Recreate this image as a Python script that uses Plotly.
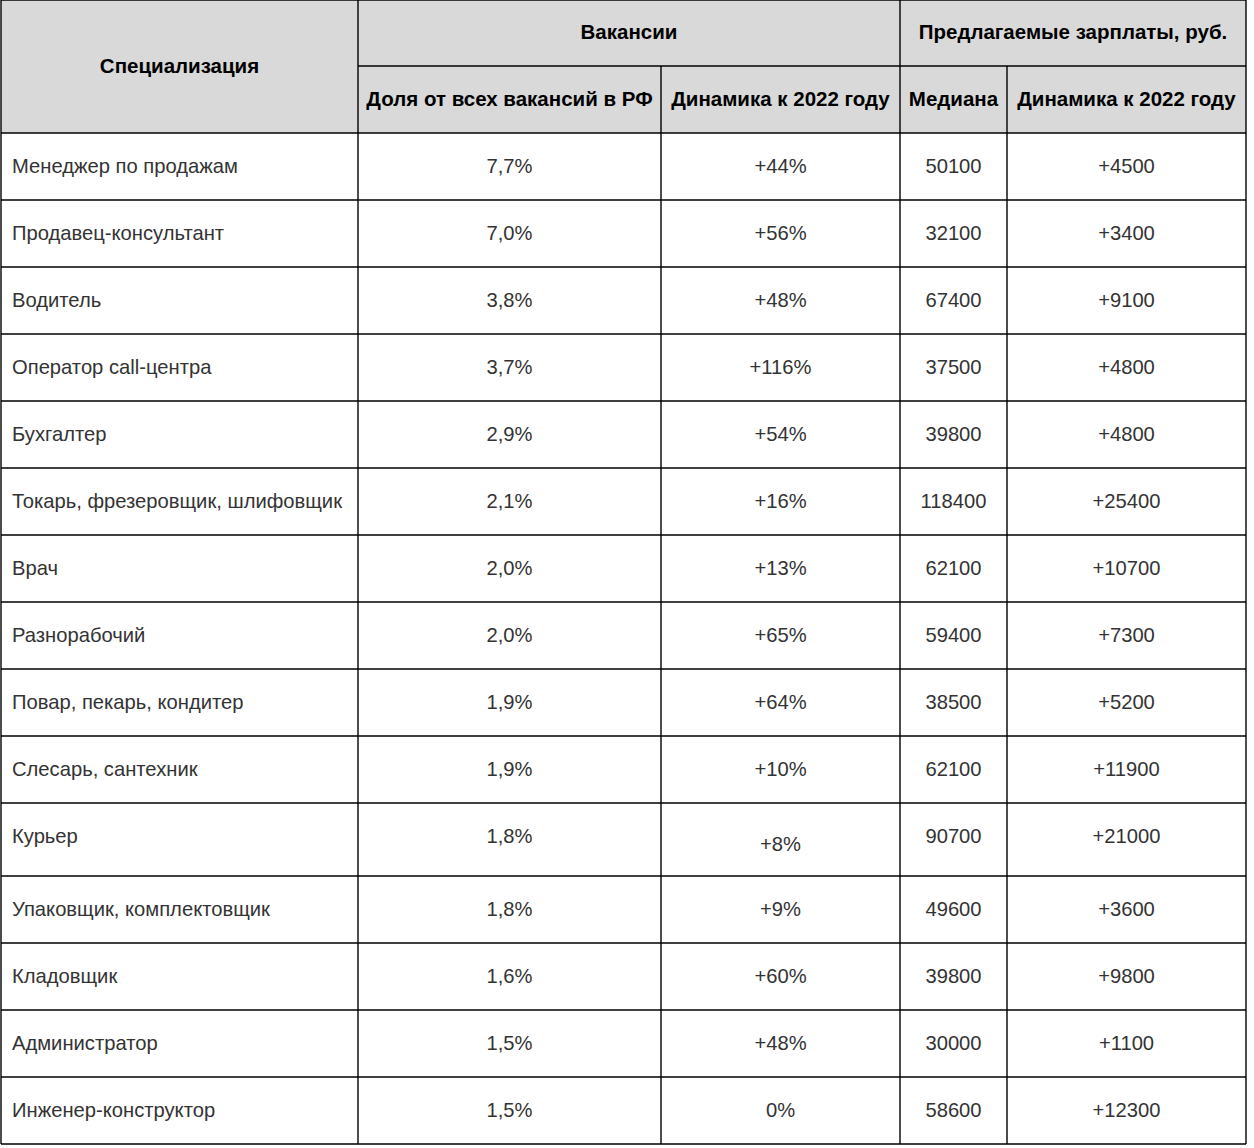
import plotly.graph_objects as go

# ---------------- data ----------------
specializations = [
    "Менеджер по продажам", "Продавец-консультант", "Водитель", "Оператор call-центра",
    "Бухгалтер", "Токарь, фрезеровщик, шлифовщик", "Врач", "Разнорабочий",
    "Повар, пекарь, кондитер", "Слесарь, сантехник", "Курьер", "Упаковщик, комплектовщик",
    "Кладовщик", "Администратор", "Инженер-конструктор",
]
vacancy_share = ["7,7%", "7,0%", "3,8%", "3,7%", "2,9%", "2,1%", "2,0%", "2,0%",
                 "1,9%", "1,9%", "1,8%", "1,8%", "1,6%", "1,5%", "1,5%"]
vacancy_dynamics = ["+44%", "+56%", "+48%", "+116%", "+54%", "+16%", "+13%", "+65%",
                    "+64%", "+10%", "+8%", "+9%", "+60%", "+48%", "0%"]
salary_median = [50100, 32100, 67400, 37500, 39800, 118400, 62100, 59400,
                 38500, 62100, 90700, 49600, 39800, 30000, 58600]
salary_dynamics = ["+4500", "+3400", "+9100", "+4800", "+4800", "+25400", "+10700", "+7300",
                   "+5200", "+11900", "+21000", "+3600", "+9800", "+1100", "+12300"]

group_headers = ["Специализация", "Вакансии", "Предлагаемые зарплаты, руб."]
sub_headers = ["Доля от всех вакансий в РФ", "Динамика к 2022 году", "Медиана", "Динамика к 2022 году"]

# ---------------- layout / style ----------------
W, H = 1254, 1148
x_left = 1
col_widths = [357, 303, 239, 107, 239]
top = 0
header_heights = [66, 67]
row_heights = [67] * 15
row_heights[10] = 73   # the "Курьер" row is taller
text_offset = 35       # text anchor distance from the row top
bottom_offset = 30     # text anchor distance from the row bottom (bottom-aligned cells)
bottom_aligned = {(10, 2)}  # cells whose text sits near the row bottom
header_shift = 1

HEADER_FILL = "#d9d9d9"
LINE = "#000000"
BODY_COLOR = "#333333"
FONT = "Liberation Sans, Arial, sans-serif"
FS = 20.2
FS_HEAD = 20.5

# column boundaries
xb = [x_left]
for w in col_widths:
    xb.append(xb[-1] + w)
# row boundaries
yb = [top]
for h in header_heights + row_heights:
    yb.append(yb[-1] + h)
hdr_bottom = yb[2]
table_bottom = yb[-1]

shapes = []
# header background
shapes.append(dict(type="rect", x0=xb[0], x1=xb[-1], y0=yb[0], y1=hdr_bottom,
                   fillcolor=HEADER_FILL, line=dict(width=0), layer="below"))

def line(x0, y0, x1, y1):
    shapes.append(dict(type="line", x0=x0, y0=y0, x1=x1, y1=y1,
                       line=dict(color=LINE, width=1.4)))

# outer border
line(xb[0], yb[0], xb[-1], yb[0])
line(xb[0], table_bottom, xb[-1], table_bottom)
line(xb[0], yb[0], xb[0], table_bottom)
line(xb[-1], yb[0], xb[-1], table_bottom)
# header inner lines
line(xb[1], yb[1], xb[-1], yb[1])           # under the group headers
line(xb[1], yb[0], xb[1], table_bottom)     # after Специализация
line(xb[3], yb[0], xb[3], table_bottom)     # between groups
line(xb[2], yb[1], xb[2], table_bottom)
line(xb[4], yb[1], xb[4], table_bottom)
# row lines
for yy in yb[2:-1]:
    line(xb[0], yy, xb[-1], yy)

fig = go.Figure()

# group header texts
gx = [(xb[0] + xb[1]) / 2, (xb[1] + xb[3]) / 2, (xb[3] + xb[5]) / 2]
gy = [(yb[0] + yb[2]) / 2 + header_shift, (yb[0] + yb[1]) / 2 + header_shift,
      (yb[0] + yb[1]) / 2 + header_shift]
fig.add_trace(go.Scatter(
    x=gx, y=gy, mode="text", text=[f"<b>{t}</b>" for t in group_headers],
    textposition="middle center", textfont=dict(family=FONT, size=FS_HEAD, color="#000000"),
    hoverinfo="skip", showlegend=False))

# sub header texts
sx = [(xb[i] + xb[i + 1]) / 2 for i in range(1, 5)]
sy = [(yb[1] + yb[2]) / 2 + header_shift] * 4
fig.add_trace(go.Scatter(
    x=sx, y=sy, mode="text", text=[f"<b>{t}</b>" for t in sub_headers],
    textposition="middle center", textfont=dict(family=FONT, size=FS_HEAD, color="#000000"),
    hoverinfo="skip", showlegend=False))

# body
row_tops = yb[2:-1]
def cell_y(r, c):
    if (r, c) in bottom_aligned:
        return row_tops[r] + row_heights[r] - bottom_offset
    return row_tops[r] + text_offset

n = len(specializations)
fig.add_trace(go.Scatter(
    x=[xb[0] + 11] * n, y=[cell_y(r, 0) for r in range(n)], mode="text",
    text=specializations, textposition="middle right",
    textfont=dict(family=FONT, size=FS, color=BODY_COLOR),
    hoverinfo="skip", showlegend=False))

cols = [vacancy_share, vacancy_dynamics, [str(v) for v in salary_median], salary_dynamics]
for ci, vals in enumerate(cols, start=1):
    fig.add_trace(go.Scatter(
        x=[(xb[ci] + xb[ci + 1]) / 2] * n, y=[cell_y(r, ci) for r in range(n)],
        mode="text", text=vals, textposition="middle center",
        textfont=dict(family=FONT, size=FS, color=BODY_COLOR),
        hoverinfo="skip", showlegend=False))

fig.update_layout(
    width=W, height=H, margin=dict(l=0, r=0, t=0, b=0),
    paper_bgcolor="#ffffff", plot_bgcolor="#ffffff",
    shapes=shapes,
    xaxis=dict(range=[0, W], visible=False, fixedrange=True),
    yaxis=dict(range=[H, 0], visible=False, fixedrange=True),
)

fig.write_html(
    "out.html",
    config={"displayModeBar": False},
    post_script="document.body.style.margin='0';document.body.style.overflow='hidden';",
)
